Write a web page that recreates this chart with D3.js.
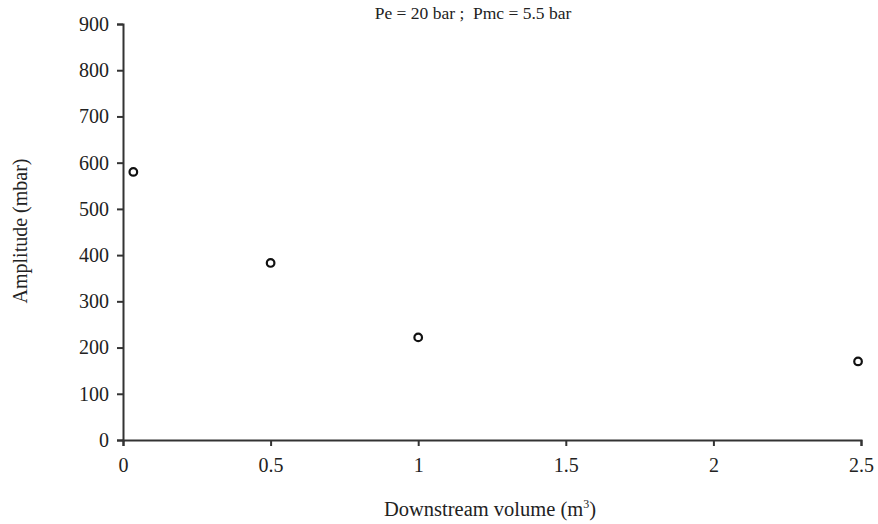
<!DOCTYPE html>
<html>
<head>
<meta charset="utf-8">
<script src="https://cdn.jsdelivr.net/npm/d3@7"></script>
<style>
  body { margin: 0; background: #fff; }
  text { font-family: "Liberation Serif", "Times New Roman", serif; fill: #222; }
</style>
</head>
<body>
<svg width="878" height="524"></svg>
<script>
// data
var volumes = [0.035, 0.5, 1.0, 2.49];
var amplitudes = [580, 383, 222, 170];
var xTicks = [0, 0.5, 1, 1.5, 2, 2.5];
var yTicks = [0, 100, 200, 300, 400, 500, 600, 700, 800, 900];

var svg = d3.select("svg"),
    mLeft = 123, mRight = 861,
    mTop = 24, mBottom = 440;

var x = d3.scaleLinear().domain([0, 2.5]).range([mLeft, mRight]);
var y = d3.scaleLinear().domain([0, 900]).range([mBottom, mTop]);

// x axis
var gx = svg.append("g")
    .attr("transform", "translate(0," + mBottom + ")")
    .call(d3.axisBottom(x).tickValues(xTicks).tickSize(6).tickPadding(12)
        .tickFormat(d => d));
gx.selectAll("text").style("font-size", "20px");

// y axis
var gy = svg.append("g")
    .attr("transform", "translate(" + mLeft + ",0)")
    .call(d3.axisLeft(y).tickValues(yTicks).tickSize(6).tickPadding(8)
        .tickFormat(d => d));
gy.selectAll("text").style("font-size", "20px").attr("dy", "0.32em");

svg.selectAll(".domain, .tick line")
    .attr("stroke", "#333")
    .attr("stroke-width", 2);

// points
svg.selectAll(".pt")
    .data(volumes)
    .enter().append("circle")
    .attr("class", "pt")
    .attr("cx", d => x(d))
    .attr("cy", (d, i) => y(amplitudes[i]))
    .attr("r", 3.8)
    .attr("fill", "none")
    .attr("stroke", "#111")
    .attr("stroke-width", 2.2);

// titles
svg.append("text")
    .attr("x", 473).attr("y", 19)
    .attr("text-anchor", "middle")
    .style("font-size", "17.5px")
    .style("white-space", "pre")
    .text("Pe = 20 bar ;  Pmc = 5.5 bar");

var xl = svg.append("text")
    .attr("x", 490).attr("y", 516)
    .attr("text-anchor", "middle")
    .style("font-size", "20.5px");
xl.append("tspan").text("Downstream volume (m");
xl.append("tspan").attr("dy", "-8").style("font-size", "12px").text("3");
xl.append("tspan").attr("dy", "8").text(")");

svg.append("text")
    .attr("transform", "translate(27,231) rotate(-90)")
    .attr("text-anchor", "middle")
    .style("font-size", "20px")
    .text("Amplitude (mbar)");
</script>
</body>
</html>
